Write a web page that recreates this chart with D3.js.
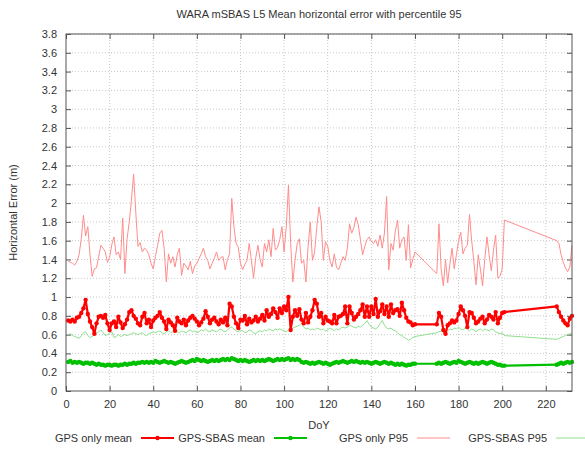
<!DOCTYPE html>
<html>
<head>
<meta charset="utf-8">
<script src="https://cdn.jsdelivr.net/npm/d3@7"></script>
<style>
  body { margin: 0; background: #fff; }
  svg { display: block; font-family: "Liberation Sans", Arial, sans-serif; }
</style>
</head>
<body>
<div id="chart"></div>
<script>
// Day of year for every sample (gaps 161-169 and 202-224 have no data)
var days = [
  1,2,3,4,5,6,7,8,9,10,11,12,13,14,15,16,17,18,19,20,
  21,22,23,24,25,26,27,28,29,30,31,32,33,34,35,36,37,38,39,40,
  41,42,43,44,45,46,47,48,49,50,51,52,53,54,55,56,57,58,59,60,
  61,62,63,64,65,66,67,68,69,70,71,72,73,74,75,76,77,78,79,80,
  81,82,83,84,85,86,87,88,89,90,91,92,93,94,95,96,97,98,99,100,
  101,102,103,104,105,106,107,108,109,110,111,112,113,114,115,116,117,118,119,120,
  121,122,123,124,125,126,127,128,129,130,131,132,133,134,135,136,137,138,139,140,
  141,142,143,144,145,146,147,148,149,150,151,152,153,154,155,156,157,158,159,160,
  170,171,172,173,174,175,176,177,178,179,180,181,182,183,184,185,186,187,188,189,
  190,191,192,193,194,195,196,197,198,199,200,201,
  225,226,227,228,229,230,231,232
];

var gpsMean = [
  0.75,0.74,0.76,0.74,0.78,0.79,0.83,0.88,0.97,0.82,0.74,0.68,0.61,0.72,0.79,0.80,0.78,0.81,0.72,0.65,
  0.72,0.74,0.68,0.79,0.73,0.67,0.71,0.76,0.84,0.86,0.80,0.77,0.72,0.70,0.79,0.83,0.72,0.76,0.68,0.75,
  0.78,0.80,0.84,0.78,0.74,0.66,0.76,0.73,0.70,0.64,0.78,0.74,0.72,0.76,0.70,0.75,0.78,0.80,0.77,0.74,
  0.70,0.73,0.77,0.85,0.79,0.72,0.76,0.78,0.74,0.71,0.76,0.73,0.78,0.70,0.93,0.90,0.79,0.72,0.67,0.76,
  0.75,0.80,0.71,0.77,0.73,0.75,0.79,0.74,0.77,0.81,0.75,0.86,0.79,0.82,0.88,0.84,0.78,0.88,0.83,0.90,
  0.86,1.00,0.65,0.79,0.86,0.80,0.87,0.76,0.72,0.83,0.73,0.79,0.86,0.97,0.93,0.79,0.83,0.72,0.79,0.75,
  0.74,0.72,0.81,0.72,0.79,0.80,0.82,0.90,0.72,0.90,0.83,0.76,0.79,0.82,0.86,0.92,0.79,0.90,0.79,0.90,
  0.82,0.98,0.79,0.85,0.92,0.82,0.90,0.79,0.92,0.83,0.86,0.87,0.80,0.94,0.86,0.78,0.74,0.73,0.70,0.71,
  0.71,0.83,0.79,0.65,0.61,0.70,0.72,0.75,0.73,0.75,0.82,0.90,0.86,0.80,0.68,0.84,0.83,0.78,0.72,0.74,
  0.77,0.79,0.72,0.76,0.81,0.79,0.76,0.84,0.72,0.78,0.83,0.84,
  0.90,0.84,0.79,0.75,0.72,0.70,0.77,0.80
];

var sbasMean = [
  0.31,0.32,0.30,0.31,0.30,0.31,0.30,0.29,0.30,0.30,0.29,0.30,0.29,0.28,0.29,0.28,0.28,0.27,0.28,0.28,
  0.27,0.28,0.28,0.27,0.28,0.28,0.29,0.28,0.29,0.29,0.30,0.29,0.30,0.30,0.31,0.30,0.31,0.30,0.31,0.30,
  0.32,0.31,0.30,0.31,0.32,0.31,0.30,0.31,0.30,0.29,0.30,0.31,0.32,0.31,0.30,0.31,0.32,0.33,0.32,0.34,
  0.33,0.32,0.33,0.32,0.31,0.32,0.33,0.32,0.33,0.32,0.33,0.34,0.33,0.34,0.33,0.35,0.34,0.33,0.32,0.33,
  0.32,0.33,0.32,0.31,0.32,0.33,0.32,0.33,0.32,0.33,0.32,0.33,0.34,0.33,0.32,0.33,0.34,0.33,0.34,0.33,
  0.34,0.35,0.33,0.34,0.33,0.34,0.33,0.31,0.30,0.31,0.30,0.29,0.30,0.29,0.30,0.31,0.30,0.29,0.30,0.29,
  0.28,0.29,0.30,0.31,0.30,0.31,0.32,0.31,0.30,0.31,0.32,0.31,0.32,0.31,0.30,0.31,0.30,0.31,0.30,0.29,
  0.30,0.31,0.30,0.29,0.30,0.31,0.30,0.29,0.30,0.29,0.28,0.29,0.28,0.29,0.28,0.27,0.28,0.28,0.29,0.29,
  0.29,0.30,0.29,0.30,0.31,0.30,0.29,0.30,0.31,0.30,0.32,0.31,0.30,0.29,0.30,0.31,0.30,0.29,0.30,0.29,
  0.30,0.31,0.30,0.29,0.30,0.31,0.30,0.29,0.28,0.28,0.27,0.27,
  0.28,0.29,0.30,0.29,0.30,0.31,0.30,0.31
];

var gpsP95 = [
  1.38,1.37,1.36,1.34,1.38,1.45,1.62,1.87,1.65,1.75,1.45,1.22,1.30,1.31,1.43,1.55,1.52,1.48,1.37,1.42,
  1.56,1.64,1.45,1.48,1.40,1.84,1.25,1.62,1.80,2.03,2.31,1.90,1.54,1.58,1.48,1.52,1.50,1.45,1.36,1.30,
  1.43,1.55,1.68,1.71,1.52,1.16,1.46,1.36,1.43,1.32,1.45,1.52,1.23,1.36,1.33,1.29,1.38,1.25,1.33,1.36,
  1.41,1.46,1.52,1.43,1.39,1.30,1.36,1.41,1.48,1.39,1.42,1.43,1.29,1.40,1.46,2.05,1.75,1.57,1.53,1.36,
  1.29,1.35,1.39,1.57,1.39,1.20,1.42,1.55,1.40,1.32,1.57,1.48,1.61,1.43,1.73,1.50,1.53,1.61,1.75,1.48,
  1.75,2.19,1.57,1.16,1.39,1.57,1.62,1.36,1.39,1.16,1.54,1.80,1.39,1.48,1.75,1.96,1.80,1.39,1.59,1.54,
  1.39,1.32,1.46,1.32,1.29,1.36,1.43,1.39,1.52,1.78,1.68,1.74,1.85,1.77,1.61,1.45,1.54,1.61,1.64,1.59,
  1.57,1.61,1.54,1.66,1.52,1.68,2.07,1.29,1.57,1.50,1.70,1.82,1.52,1.61,1.64,1.39,1.77,1.31,1.40,1.48,
  1.25,1.78,1.30,1.12,1.40,1.15,1.35,1.52,1.30,1.45,1.60,1.69,1.46,1.52,1.55,1.88,1.60,1.38,1.13,1.45,
  1.30,1.12,1.40,1.64,1.45,1.28,1.50,1.66,1.20,1.22,1.30,1.82,
  1.60,1.57,1.45,1.37,1.31,1.27,1.32,1.55
];

var sbasP95 = [
  0.60,0.61,0.59,0.58,0.57,0.56,0.59,0.62,0.63,0.59,0.57,0.58,0.60,0.62,0.63,0.65,0.62,0.59,0.60,0.62,
  0.63,0.57,0.58,0.60,0.58,0.59,0.60,0.59,0.60,0.61,0.62,0.61,0.60,0.61,0.62,0.60,0.59,0.61,0.62,0.63,
  0.62,0.63,0.64,0.62,0.61,0.63,0.64,0.62,0.63,0.65,0.63,0.62,0.64,0.63,0.62,0.64,0.65,0.63,0.64,0.62,
  0.63,0.65,0.64,0.66,0.64,0.63,0.65,0.64,0.63,0.65,0.66,0.64,0.63,0.65,0.67,0.68,0.66,0.64,0.63,0.65,
  0.64,0.62,0.63,0.65,0.64,0.62,0.61,0.63,0.64,0.63,0.65,0.64,0.66,0.65,0.64,0.66,0.65,0.66,0.65,0.64,
  0.63,0.65,0.64,0.67,0.68,0.69,0.70,0.72,0.68,0.66,0.67,0.65,0.66,0.65,0.67,0.66,0.65,0.66,0.64,0.65,
  0.67,0.66,0.64,0.66,0.65,0.67,0.68,0.67,0.68,0.70,0.69,0.68,0.67,0.69,0.68,0.70,0.72,0.75,0.71,0.68,
  0.67,0.66,0.68,0.72,0.75,0.70,0.67,0.66,0.67,0.65,0.64,0.62,0.60,0.59,0.57,0.56,0.54,0.55,0.57,0.58,
  0.62,0.63,0.64,0.63,0.65,0.64,0.66,0.65,0.67,0.66,0.68,0.66,0.65,0.67,0.66,0.64,0.66,0.65,0.63,0.65,
  0.66,0.64,0.66,0.65,0.64,0.66,0.65,0.63,0.62,0.61,0.62,0.59,
  0.55,0.56,0.57,0.58,0.59,0.60,0.61,0.61
];

var yTicks = [0,0.2,0.4,0.6,0.8,1,1.2,1.4,1.6,1.8,2,2.2,2.4,2.6,2.8,3,3.2,3.4,3.6,3.8];
var xTicks = [0,20,40,60,80,100,120,140,160,180,200,220];

var series = [
  { name: "GPS only mean", values: gpsMean, color: "#ff0000", width: 2.2, dots: true },
  { name: "GPS-SBAS mean", values: sbasMean, color: "#00c000", width: 2.2, dots: true },
  { name: "GPS only P95", values: gpsP95, color: "#ff8c8c", width: 1, dots: false },
  { name: "GPS-SBAS P95", values: sbasP95, color: "#8ee08e", width: 1, dots: false }
];

var width = 585, height = 457;
var margin = { top: 34, left: 66, right: 13, bottom: 66 };
var w = width - margin.left - margin.right;
var h = height - margin.top - margin.bottom;

var svg = d3.select("#chart").append("svg")
  .attr("width", width)
  .attr("height", height);

var x = d3.scaleLinear().domain([0, 232]).range([0, w]);
var y = d3.scaleLinear().domain([0, 3.8]).range([h, 0]);

var g = svg.append("g")
  .attr("transform", "translate(" + margin.left + "," + margin.top + ")");

// grid
g.append("g").selectAll("line").data(xTicks.slice(1)).enter().append("line")
  .attr("x1", function (d) { return x(d); }).attr("x2", function (d) { return x(d); })
  .attr("y1", 0).attr("y2", h)
  .attr("stroke", "#c8c8c8").attr("stroke-dasharray", "1,2");
g.append("g").selectAll("line").data(yTicks.slice(1)).enter().append("line")
  .attr("y1", function (d) { return y(d); }).attr("y2", function (d) { return y(d); })
  .attr("x1", 0).attr("x2", w)
  .attr("stroke", "#c8c8c8").attr("stroke-dasharray", "1,2");

// axes (ticks pointing inward, mirrored)
var fmt = function (d) { return String(d); };
var xAxis = g.append("g").attr("transform", "translate(0," + h + ")")
  .call(d3.axisBottom(x).tickValues(xTicks).tickFormat(fmt).tickSizeInner(-5).tickSizeOuter(0).tickPadding(9));
var xTop = g.append("g")
  .call(d3.axisTop(x).tickValues(xTicks).tickFormat("").tickSizeInner(-5).tickSizeOuter(0));
var yAxis = g.append("g")
  .call(d3.axisLeft(y).tickValues(yTicks).tickFormat(fmt).tickSizeInner(-5).tickSizeOuter(0).tickPadding(9));
var yRight = g.append("g").attr("transform", "translate(" + w + ",0)")
  .call(d3.axisRight(y).tickValues(yTicks).tickFormat("").tickSizeInner(-5).tickSizeOuter(0));

[xAxis, xTop, yAxis, yRight].forEach(function (a) {
  a.select(".domain").remove();
  a.selectAll("line").attr("stroke", "#555");
  a.selectAll("text").attr("font-size", 11).attr("fill", "#333")
    .attr("font-family", "Liberation Sans, Arial, sans-serif");
});

// data lines, drawn P95 first so means sit on top
var line = d3.line()
  .x(function (d, i) { return x(days[i]); })
  .y(function (d) { return y(d); });

var order = [3, 2, 1, 0];
order.forEach(function (k) {
  var s = series[k];
  g.append("path")
    .datum(s.values)
    .attr("fill", "none")
    .attr("stroke", s.color)
    .attr("stroke-width", s.width)
    .attr("stroke-linejoin", "round")
    .attr("d", line);
  if (s.dots) {
    g.append("g").selectAll("circle").data(s.values).enter().append("circle")
      .attr("cx", function (d, i) { return x(days[i]); })
      .attr("cy", function (d) { return y(d); })
      .attr("r", 2.2)
      .attr("fill", s.color);
  }
});

// frame
g.append("rect")
  .attr("width", w).attr("height", h)
  .attr("fill", "none").attr("stroke", "#555").attr("stroke-width", 1);

// title and axis labels
svg.append("text")
  .attr("x", margin.left + w / 2).attr("y", 18)
  .attr("text-anchor", "middle").attr("font-size", 11).attr("fill", "#333")
  .text("WARA mSBAS L5 Mean horizontal error with percentile 95");

svg.append("text")
  .attr("transform", "translate(17," + (margin.top + h / 2) + ") rotate(-90)")
  .attr("text-anchor", "middle").attr("font-size", 11).attr("fill", "#333")
  .text("Horizontal Error (m)");

svg.append("text")
  .attr("x", margin.left + w / 2).attr("y", 429)
  .attr("text-anchor", "middle").attr("font-size", 11).attr("fill", "#333")
  .text("DoY");

// legend
var legendEnds = [132, 265, 408, 547];
var legend = svg.append("g");
series.forEach(function (s, i) {
  var tx = legendEnds[i];
  legend.append("text")
    .attr("x", tx).attr("y", 442)
    .attr("text-anchor", "end").attr("font-size", 11).attr("fill", "#333")
    .text(s.name);
  legend.append("line")
    .attr("x1", tx + 9).attr("x2", tx + 42)
    .attr("y1", 438).attr("y2", 438)
    .attr("stroke", s.color).attr("stroke-width", s.width);
  if (s.dots) {
    legend.append("circle")
      .attr("cx", tx + 25.5).attr("cy", 438).attr("r", 2.2)
      .attr("fill", s.color);
  }
});
</script>
</body>
</html>
